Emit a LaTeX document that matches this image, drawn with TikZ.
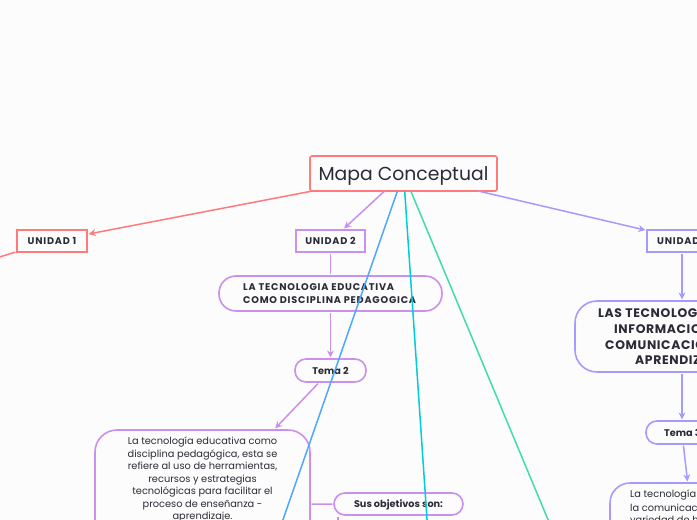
\documentclass[tikz,border=0pt]{standalone}
\usepackage{fontspec}
\setmainfont{Poppins}
\usetikzlibrary{arrows.meta}
\definecolor{rojoMapa}{HTML}{FF7B7B}
\definecolor{lilaMapa}{HTML}{CB8FEE}
\definecolor{violetaMapa}{HTML}{A59BFF}
\definecolor{azulMapa}{HTML}{4DA8FF}
\definecolor{cianMapa}{HTML}{00CDD6}
\definecolor{verdeMapa}{HTML}{40DDAA}
\definecolor{tintaMapa}{HTML}{2B2B36}
\newfontfamily\mayusFont[LetterSpace=8]{Poppins}
\newfontfamily\ticFont[LetterSpace=5]{Poppins}
\tikzset{
    caja/.style={draw, line width=1.6pt, inner sep=0pt, outer sep=1.6pt, text=tintaMapa},
    titulo/.style={font=\fontsize{9.7}{11}\selectfont\bfseries, text=tintaMapa, text height=7pt, text depth=0pt},
    mayus/.style={font=\mayusFont\fontsize{9.7}{12.6}\selectfont\bfseries, text=tintaMapa},
    ticTxt/.style={font=\ticFont\fontsize{12.4}{12.4}\selectfont\bfseries, text=tintaMapa, anchor=west, inner sep=0pt},
    cuerpo/.style={font=\fontsize{9.8}{12.5}\selectfont, text=tintaMapa, inner sep=0pt},
    rama/.style={line width=1.5pt},
    flecha/.style={rama, -{Stealth[length=7pt,width=7pt]}}
}
\newcommand{\drawRama}[3]{
    \draw[flecha, #1] (#2) -- (#3)
}
\begin{document}
\begin{tikzpicture}[x=1pt,y=-1pt]
            \useasboundingbox (0,0) rectangle (697,520);
            \clip (0,0) rectangle (697,520);
            \fill[white!99!black] (0,0) rectangle (697,520);

            \node[caja, draw=rojoMapa, outer sep=0pt, rounded corners=2pt, minimum width=187pt, minimum height=35pt, font=\fontsize{18.8}{20}\selectfont, text height=14pt, text depth=0pt] (raiz) at (403.5,173.5) {Mapa Conceptual};

            % unidad 1
            \node[caja, draw=rojoMapa, minimum width=70pt, minimum height=22pt, mayus, text height=7pt, text depth=0pt] (unidadUno) at (52,241) {UNIDAD 1};
            \coordinate (unoSale) at (-30,266);

            % unidad 2
            \node[caja, draw=lilaMapa, minimum width=69pt, minimum height=22pt, mayus, text height=7pt, text depth=0pt] (unidadDos) at (330.5,241) {UNIDAD 2};
            \node[caja, draw=lilaMapa, rounded corners=17pt, minimum width=223pt, minimum height=35pt] (tecEducativa) at (330.5,293.5) {};
            \node[mayus, align=left, anchor=west, inner sep=0pt] (tecEducativaTxt) at (243,293.5) {LA TECNOLOGIA EDUCATIVA\\COMO DISCIPLINA PEDAGOGICA};
            \node[caja, draw=lilaMapa, rounded corners=11pt, minimum width=71pt, minimum height=23pt, titulo] (temaDos) at (330.5,370.5) {Tema 2};
            \node[caja, draw=lilaMapa, rounded corners=22pt, minimum width=215pt, minimum height=149pt] (disciplina) at (202.5,504.5) {};
            \node[cuerpo, align=center, anchor=north] (disciplinaTxt) at (202.5,437) {La tecnología educativa como\\disciplina pedagógica, esta se\\refiere al uso de herramientas,\\recursos y estrategias\\tecnológicas para facilitar el\\proceso de enseñanza -\\aprendizaje.};
            \node[caja, draw=lilaMapa, rounded corners=11pt, minimum width=129pt, minimum height=22pt, titulo] (objetivos) at (398.5,504) {Sus objetivos son:};
            \coordinate (objetivosSale) at (338,530);

            % unidad 3
            \node[caja, draw=violetaMapa, minimum width=90pt, minimum height=22pt] (unidadTres) at (692,241) {};
            \node[mayus, anchor=west, inner sep=0pt, text height=7pt, text depth=0pt] (unidadTresTxt) at (657,241) {UNIDAD};
            \node[caja, draw=violetaMapa, rounded corners=22pt, minimum width=214pt, minimum height=71pt] (lasTic) at (682,336.5) {};
            \node[ticTxt] (lasTicA) at (598,313.5) {LAS TECNOLOG};
            \node[ticTxt] (lasTicB) at (614,329.5) {INFORMACIO};
            \node[ticTxt] (lasTicC) at (605,345) {COMUNICACIO};
            \node[ticTxt] (lasTicD) at (635,360.5) {APRENDIZ};
            \node[caja, draw=violetaMapa, rounded corners=11pt, minimum width=72pt, minimum height=23pt] (temaTres) at (682,432.5) {};
            \node[titulo, anchor=west, inner sep=0pt] (temaTresTxt) at (664,432.5) {Tema 3};
            \node[caja, draw=violetaMapa, rounded corners=20pt, minimum width=180pt, minimum height=220pt] (tecCom) at (700,593) {};
            \node[cuerpo, anchor=west] (tecComA) at (630,495) {La tecnología};
            \node[cuerpo, anchor=west] (tecComB) at (630,507.5) {la comunicaci};
            \node[cuerpo, anchor=west] (tecComC) at (630,520) {variedad de h};

            \coordinate (azulSale) at (278,534);
            \coordinate (cianSale) at (428,534);
            \coordinate (verdeSale) at (554,534);

            \drawRama{rojoMapa}{raiz}{unidadUno};
            \draw[rama, rojoMapa] (unidadUno) -- (unoSale);
            \drawRama{lilaMapa}{raiz}{unidadDos};
            \draw[rama, lilaMapa] (unidadDos) -- (tecEducativa);
            \drawRama{lilaMapa}{tecEducativa}{temaDos};
            \drawRama{lilaMapa}{temaDos}{disciplina};
            \draw[rama, lilaMapa] (disciplina) -- (objetivos);
            \draw[rama, lilaMapa] (objetivos.south -| objetivosSale) -- (objetivosSale);
            \drawRama{violetaMapa}{raiz}{unidadTres};
            \drawRama{violetaMapa}{unidadTres.south -| lasTic}{lasTic};
            \drawRama{violetaMapa}{lasTic}{temaTres};
            \drawRama{violetaMapa}{temaTres}{tecCom};

            \draw[rama, azulMapa] (raiz) -- (azulSale);
            \draw[rama, cianMapa] (raiz) -- (cianSale);
            \draw[rama, verdeMapa] (raiz) -- (verdeSale);
        \end{tikzpicture}
\end{document}
